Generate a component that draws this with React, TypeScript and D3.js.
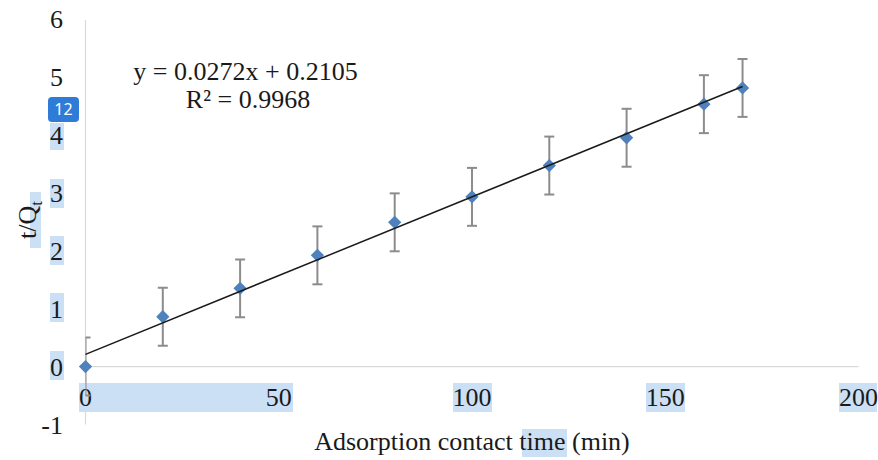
import React from "react";
import * as d3 from "d3";

const times = [0, 20, 40, 60, 80, 100, 120, 140, 160, 170];
const tQt = [0, 0.86, 1.35, 1.92, 2.49, 2.93, 3.47, 3.95, 4.53, 4.81];
const errors = [0.5, 0.5, 0.5, 0.5, 0.5, 0.5, 0.5, 0.5, 0.5, 0.5];
const xTicks = [0, 50, 100, 150, 200];
const yTicks = [-1, 0, 1, 2, 3, 4, 5, 6];
const slope = 0.0272;
const intercept = 0.2105;
const trendRange = [0, 170];

const W = 878;
const H = 460;
const FONT = "'Liberation Serif', 'Times New Roman', serif";
const HL = "#cce0f5";
const FS = 26;

export default function App() {
  const x = d3.scaleLinear().domain([0, 200]).range([85.5, 858.5]);
  const y = d3.scaleLinear().domain([-1, 6]).range([424.5, 19]);
  const diamond = d3.symbol(d3.symbolSquare, 88)() as string;
  const trend = d3
    .line<number>()
    .x((d) => x(d))
    .y((d) => y(slope * d + intercept))(trendRange) as string;

  return (
    <svg
      width={W}
      height={H}
      style={{ position: "absolute", left: 0, top: 0, background: "#fff" }}
      fontFamily={FONT}
    >
      <defs>
        <clipPath id="plot">
          <rect x={x(0)} y={0} width={x(200) - x(0)} height={H} />
        </clipPath>
      </defs>

      {/* selection highlights */}
      <rect x={50} y={123} width={14} height={27} fill={HL} />
      <rect x={50} y={179} width={14} height={29} fill={HL} />
      <rect x={50} y={236} width={14} height={29} fill={HL} />
      <rect x={50} y={293} width={14} height={29} fill={HL} />
      <rect x={50} y={351} width={14} height={29} fill={HL} />
      <rect x={79} y={383} width={214} height={29} fill={HL} />
      <rect x={453} y={383} width={39} height={29} fill={HL} />
      <rect x={646} y={383} width={39} height={29} fill={HL} />
      <rect x={839} y={383} width={38} height={29} fill={HL} />
      <rect x={30} y={192} width={11} height={56} fill={HL} />
      <rect x={522} y={429} width={45} height={28} fill={HL} />

      {/* axes */}
      <line x1={x(0)} x2={x(0)} y1={y(6) + 1} y2={y(-1)} stroke="#d9d9d9" strokeWidth={1.2} />
      <line x1={x(0)} x2={x(200)} y1={y(0)} y2={y(0)} stroke="#d9d9d9" strokeWidth={1.2} />

      {/* y tick labels */}
      {yTicks.map((t) => (
        <text
          key={"y" + t}
          x={63}
          y={y(t)}
          dy="0.35em"
          textAnchor="end"
          fontSize={FS}
          fill="#1a1a1a"
        >
          {t}
        </text>
      ))}

      {/* x tick labels */}
      {xTicks.map((t) => (
        <text
          key={"x" + t}
          x={x(t)}
          y={397}
          dy="0.35em"
          textAnchor="middle"
          fontSize={FS}
          fill="#1a1a1a"
        >
          {t}
        </text>
      ))}

      {/* error bars */}
      <g clipPath="url(#plot)" stroke="#8c8c8c" strokeWidth={2} fill="none">
        {times.map((t, i) => {
          const cx = x(t);
          const top = y(tQt[i] + errors[i]);
          const bot = y(tQt[i] - errors[i]);
          return (
            <g key={"e" + i}>
              <line x1={cx} x2={cx} y1={top} y2={bot} />
              <line x1={cx - 5} x2={cx + 5} y1={top} y2={top} />
              <line x1={cx - 5} x2={cx + 5} y1={bot} y2={bot} />
            </g>
          );
        })}
      </g>

      {/* markers */}
      {times.map((t, i) => (
        <path
          key={"m" + i}
          d={diamond}
          transform={`translate(${x(t)},${y(tQt[i])}) rotate(45)`}
          fill="#4f81bd"
        />
      ))}

      {/* trendline */}
      <path d={trend} stroke="#1a1a1a" strokeWidth={1.5} fill="none" />

      {/* equation */}
      <text x={245.5} y={80} textAnchor="middle" fontSize={FS} fill="#1a1a1a">
        y = 0.0272x + 0.2105
      </text>
      <text x={248} y={108} textAnchor="middle" fontSize={FS} fill="#1a1a1a">
        R² = 0.9968
      </text>

      {/* axis titles */}
      <text
        transform="translate(36,220) rotate(-90)"
        textAnchor="middle"
        fontSize={FS}
        fill="#1a1a1a"
      >
        t/Q<tspan fontSize={17} dy={6}>t</tspan>
      </text>
      <text x={472} y={450} textAnchor="middle" fontSize={FS} fill="#1a1a1a">
        Adsorption contact time (min)
      </text>

      {/* badge */}
      <rect x={48} y={97} width={31} height={25} rx={4} fill="#2f7bd8" />
      <text
        x={63.5}
        y={109.5}
        dy="0.35em"
        textAnchor="middle"
        fontSize={16}
        fontFamily="'Noto Sans', 'Open Sans', sans-serif"
        fill="#fff"
      >
        12
      </text>
    </svg>
  );
}
